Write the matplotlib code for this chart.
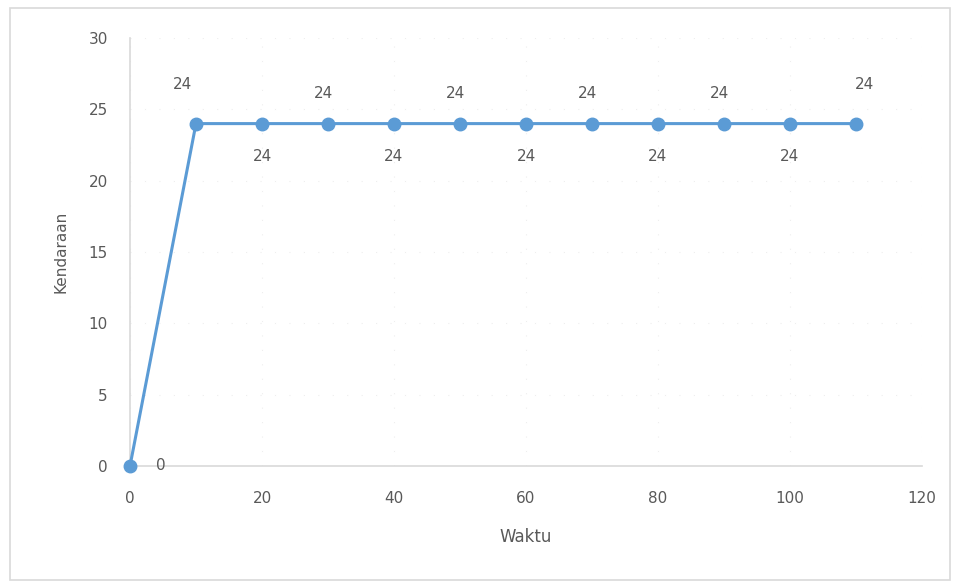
import matplotlib
matplotlib.use("Agg")
import matplotlib.pyplot as plt
from matplotlib.patches import Rectangle

waktu = [0, 10, 20, 30, 40, 50, 60, 70, 80, 90, 100, 110]
kendaraan = [0, 24, 24, 24, 24, 24, 24, 24, 24, 24, 24, 24]
x_ticks = [0, 20, 40, 60, 80, 100, 120]
y_ticks = [0, 5, 10, 15, 20, 25, 30]

gray = "#595959"
blue = "#5B9BD5"

fig = plt.figure(figsize=(9.6, 5.83), dpi=100)
fig.patches.append(Rectangle((10/960, 1-580/583), 940/960, 572/583, transform=fig.transFigure,
                             fill=False, edgecolor="#d9d9d9", linewidth=1.2))
ax = fig.add_axes([130/960, 1-466/583, 792/960, 428/583])

ax.plot(waktu, kendaraan, color=blue, linewidth=2.2, marker="o", markersize=9,
        markerfacecolor=blue, markeredgecolor=blue, zorder=3, clip_on=False)

# data labels
for i, (x, y) in enumerate(zip(waktu, kendaraan)):
    if i == 0:
        off = (22, 0)
    elif i == 1:
        off = (-10, 28)
    elif i == len(waktu) - 1:
        off = (6, 28)
    elif i % 2 == 1:
        off = (-3, 22)
    else:
        off = (0, -24)
    ax.annotate(str(y), (x, y), xytext=off, textcoords="offset points",
                ha="center", va="center", color=gray, fontsize=11)

ax.set_xlim(0, 120)
ax.set_ylim(0, 30)
ax.set_xticks(x_ticks)
ax.set_yticks(y_ticks)
ax.tick_params(axis="both", length=0, colors=gray, labelsize=11)
ax.tick_params(axis="x", pad=18)
ax.tick_params(axis="y", pad=16)

ax.grid(True, color="#eeeeee", linewidth=0.8, linestyle=(0, (1, 12)))
ax.set_axisbelow(True)

for s in ["top", "right"]:
    ax.spines[s].set_visible(False)
ax.spines["left"].set_color("#d9d9d9")
ax.spines["bottom"].set_color("#d9d9d9")
ax.spines["left"].set_linewidth(1.2)
ax.spines["bottom"].set_linewidth(1.2)

ax.set_xlabel("Waktu", color=gray, fontsize=12, labelpad=16)
ax.set_ylabel("Kendaraan", color=gray, fontsize=11, labelpad=14)

fig.savefig("out.png", dpi=100)
